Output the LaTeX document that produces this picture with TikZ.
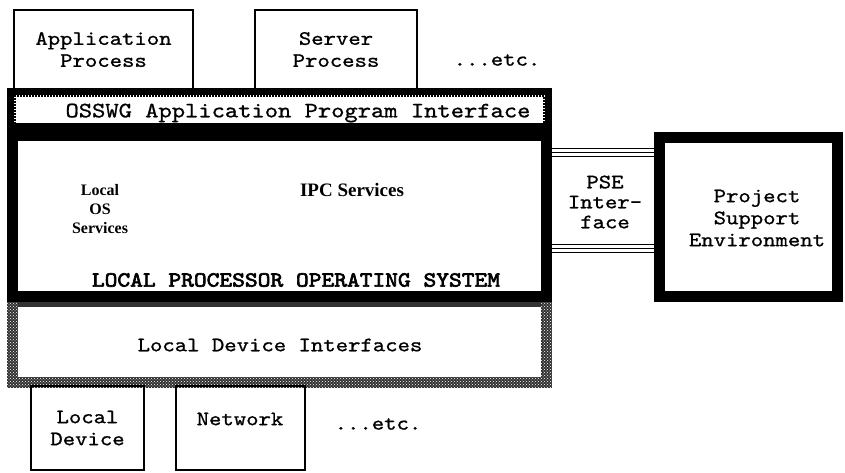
\documentclass[tikz,border=0pt]{standalone}
\usepackage{fontspec}
\usetikzlibrary{patterns}
\setmainfont{Liberation Serif}
\newfontfamily\mono[Extension=.otf, FakeStretch=1.15, FakeBold=0.9]{lmmono10-regular}
\newfontfamily\monob[Extension=.otf, FakeStretch=1.13, FakeBold=3]{lmmono10-regular}
\begin{document}
\begin{tikzpicture}[x=1pt,y=-1pt,
  thinbox/.style={draw, line width=2.4pt, inner sep=0pt},
  heavybox/.style={draw, line width=11pt, inner sep=0pt},
  mtext/.style={font=\mono\fontsize{20.5}{22}\selectfont, align=center, inner sep=0pt},
  stext/.style={font=\bfseries\fontsize{16}{19}\selectfont, align=center, inner sep=0pt},
  dotline/.style={line width=2pt, dash pattern=on 1.5pt off 1.5pt},
  triple/.style={line width=1.8pt}]
\useasboundingbox (0,0) rectangle (845,473);
% Local device interfaces (stippled)
\node[heavybox, draw=black!80, minimum width=534pt, minimum height=81pt] (ldi) at (279.5,342) {};
\fill[pattern=crosshatch dots, pattern color=white, even odd rule]
  (ldi.north west) rectangle (ldi.south east)
  ([shift={(11,0)}]ldi.north west) rectangle ([shift={(-11,-11)}]ldi.south east);
\node[mtext] (ldit) at (280,345) {Local Device Interfaces};
% API band
\node[draw, line width=7pt, inner sep=0pt, minimum width=538pt, minimum height=35pt] (api) at (279.5,109) {};
\draw[dotline] ([shift={(8,0)}]api.south west) |- ([shift={(-8,8)}]api.north east) -- ([shift={(-8,0)}]api.south east);
\node[mtext, font=\mono\fontsize{22}{24}\selectfont] (apit) at (298,113) {OSSWG Application Program Interface};
% Local processor OS
\node[heavybox, minimum width=534pt, minimum height=161pt] (lpos) at (279.5,216) {};
\node[stext] (los) at (100,209) {Local\\OS\\Services};
\node[stext, font=\bfseries\fontsize{19}{21}\selectfont] (ipc) at (352,190) {IPC Services};
\node[mtext, font=\monob\fontsize{21.5}{23}\selectfont] (lpost) at (296,280) {LOCAL PROCESSOR OPERATING SYSTEM};
% top processes
\node[thinbox, minimum width=179pt, minimum height=79pt, mtext] (app) at (103.5,49.5) {Application\\Process};
\node[thinbox, minimum width=162pt, minimum height=79pt, mtext] (srv) at (336,49.5) {Server\\Process};
\node[mtext] (etc1) at (497,60) {...etc.};
% PSE
\node[heavybox, minimum width=178pt, minimum height=159pt] (pse) at (748.5,217) {};
\node[mtext] (pset) at (757,218) {Project\\Support\\Environment};
\foreach \yy in {148.5,152.5,156.5,244.5,248.5,252.5}
  \draw[triple] (lpos.east |- 0,\yy) -- (pse.west |- 0,\yy);
\node[mtext, font=\mono\fontsize{20.5}{20}\selectfont] (psei) at (605,202) {PSE\\Inter-\\face};
% bottom devices
\node[thinbox, minimum width=113pt, minimum height=84pt, mtext] (ld) at (87.5,428) {Local\\Device};
\node[thinbox, minimum width=129pt, minimum height=84pt] (net) at (240.5,428) {};
\node[mtext] (nett) at (240,419) {Network};
\node[mtext] (etc2) at (378,424) {...etc.};
\end{tikzpicture}
\end{document}
